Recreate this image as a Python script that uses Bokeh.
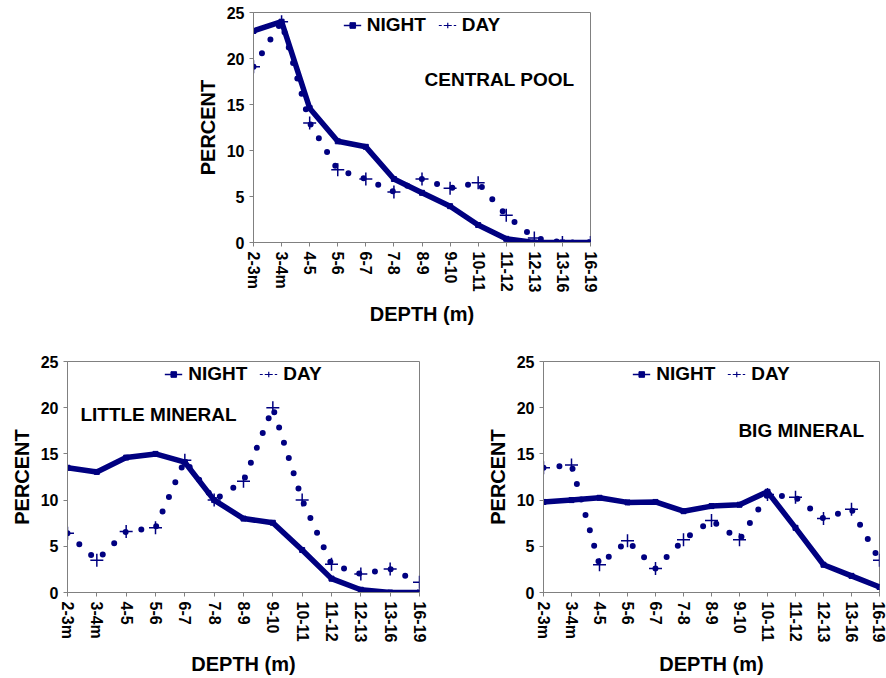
from bokeh.plotting import figure
from bokeh.models import (Range1d, FixedTicker, Legend, LegendItem, Label, Spacer,
                          ColumnDataSource)
from bokeh.layouts import column, row
from bokeh.embed import file_html
from bokeh.resources import INLINE

depths = ["2-3m", "3-4m", "4-5", "5-6", "6-7", "7-8", "8-9", "9-10",
          "10-11", "11-12", "12-13", "13-16", "16-19"]
y_ticks = [0, 5, 10, 15, 20, 25]

central_night = [23, 24, 14.6, 11, 10.4, 6.9, 5.4, 3.95, 1.9, 0.4, 0, 0, 0]
central_day = [19.1, 24, 13, 7.9, 6.9, 5.5, 6.9, 5.9, 6.5, 2.95, 0.5, 0, 0]
little_night = [13.5, 13.05, 14.6, 15, 14.1, 10, 8, 7.55, 4.6, 1.5, 0.3, 0, 0]
little_day = [6.4, 3.5, 6.6, 7, 14.3, 10, 12.05, 20, 10, 3.05, 2, 2.55, 1.1]
big_night = [9.8, 10, 10.25, 9.75, 9.8, 8.8, 9.35, 9.5, 10.9, 7, 3, 1.8, 0.6]
big_day = [13.5, 13.8, 3, 5.6, 2.6, 5.7, 7.8, 5.7, 10.6, 10.3, 8, 9, 3.5]

NAVY = "#000080"
GREY = "#808080"
FONT = "Liberation Sans"
NAN = float("nan")


def make_fig(night, day, name, name_x, name_y, width, height, bl, br, bt, bb):
    p = figure(width=width, height=height, x_range=Range1d(0, 12), y_range=Range1d(0, 25),
               output_backend="svg", toolbar_location=None,
               min_border_left=bl, min_border_right=br, min_border_top=bt, min_border_bottom=bb)
    p.outline_line_color = GREY
    p.outline_line_width = 1
    p.xgrid.visible = False
    p.ygrid.visible = False
    xs = list(range(len(depths)))
    src = ColumnDataSource(dict(x=xs, night=night, day=day))
    p.line("x", "day", source=src, line_color=NAVY, line_width=6,
           line_dash="0 16", line_cap="round")
    p.scatter("x", "day", source=src, marker="cross", size=13,
              line_color=NAVY, line_width=1.5)
    p.line("x", "night", source=src, line_color=NAVY, line_width=5.5, line_join="round")
    p.scatter("x", "night", source=src, marker="square", size=5, color=NAVY)

    proxy = ColumnDataSource(dict(x=[NAN], y=[NAN]))
    ln = p.line("x", "y", source=proxy, line_color=NAVY, line_width=1.5)
    sn = p.scatter("x", "y", source=proxy, marker="square", size=3, color=NAVY)
    ld = p.line("x", "y", source=proxy, line_color=NAVY, line_width=1, line_dash="3 2")
    sd = p.scatter("x", "y", source=proxy, marker="cross", size=11,
                   line_color=NAVY, line_width=1.2)
    legend = Legend(items=[LegendItem(label="NIGHT", renderers=[ln, sn]),
                           LegendItem(label="DAY", renderers=[ld, sd])],
                    location="top_center", orientation="horizontal",
                    border_line_color=None, background_fill_alpha=0,
                    label_text_font=FONT, label_text_font_style="bold",
                    label_text_font_size="19px", label_text_color="black",
                    glyph_width=18, glyph_height=14, label_standoff=6,
                    spacing=12, padding=0, margin=2)
    p.add_layout(legend)

    p.add_layout(Label(x=name_x, y=name_y, text=name, text_baseline="middle",
                       text_font=FONT, text_font_style="bold", text_font_size="19px",
                       text_color="black"))

    for ax in (p.xaxis[0], p.yaxis[0]):
        ax.axis_line_color = GREY
        ax.major_tick_line_color = GREY
        ax.major_tick_out = 4
        ax.major_tick_in = 0
        ax.minor_tick_line_color = None
        ax.major_label_text_font = FONT
        ax.major_label_text_font_style = "bold"
        ax.major_label_text_font_size = "16px"
        ax.major_label_text_color = "black"
        ax.axis_label_text_font = FONT
        ax.axis_label_text_font_style = "bold"
        ax.axis_label_text_font_size = "20px"
        ax.axis_label_text_color = "black"
    p.xaxis.ticker = FixedTicker(ticks=xs)
    p.xaxis.major_label_overrides = {i: d for i, d in enumerate(depths)}
    p.xaxis.major_label_orientation = "vertical"
    p.xaxis.axis_label = "DEPTH (m)"
    p.xaxis.axis_label_standoff = 8
    p.yaxis.ticker = FixedTicker(ticks=y_ticks)
    p.yaxis.axis_label = "PERCENT"
    return p


top = make_fig(central_night, central_day, "CENTRAL POOL", 6.09, 17.7,
               407, 328, 60, 10, 12, 85)
bl = make_fig(little_night, little_day, "LITTLE MINERAL", 0.44, 19.3,
              483, 350, 67, 64, 33, 85)
br = make_fig(big_night, big_day, "BIG MINERAL", 6.96, 17.5,
              403, 350, 60, 7, 32, 86)

layout = column(row(Spacer(width=193, height=328), top), row(bl, br))
open("out.html", "w").write(file_html(layout, INLINE))
